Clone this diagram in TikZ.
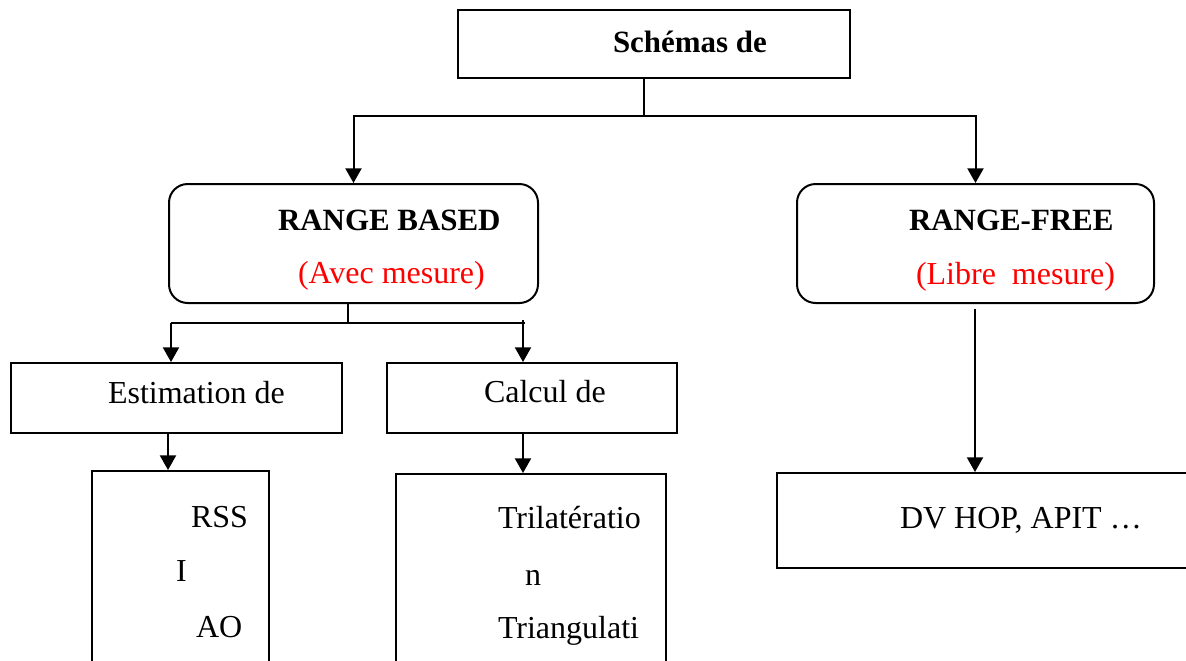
\documentclass[tikz,border=0pt]{standalone}
\usepackage{fontspec}
\setmainfont{Liberation Serif}
\usetikzlibrary{arrows.meta,fit}
\definecolor{rbred}{HTML}{FF0000}

\begin{document}
\begin{tikzpicture}[x=0.375pt, y=-0.375pt, line width=0.75pt,
    box/.style={draw, rectangle, inner sep=0pt},
    roundbox/.style={draw, rectangle, rounded corners=7pt, inner sep=0pt},
    arr/.style={-{Triangle[width=6pt,length=5.5pt]}},
    lbl/.style={anchor=base west, inner sep=0pt, font=\fontsize{12}{14}\selectfont},
    head/.style={lbl, font=\fontsize{11.6}{14}\selectfont\bfseries}]
            \useasboundingbox (0,0) rectangle (1186,660);
            \clip (0,0) rectangle (1186,660);

            % Boxes
            \node[box, fit={(458,10) (850,78)}] (top) {};
            \node[roundbox, fit={(169,184) (538,303)}] (based) {};
            \node[roundbox, fit={(797,184) (1154,303)}] (free) {};
            \node[box, fit={(11,363) (342,433)}] (estim) {};
            \node[box, fit={(387,363) (677,433)}] (calc) {};
            \node[box, fit={(92,471) (269,720)}] (rss) {};
            \node[box, fit={(396,474) (666,720)}] (trilat) {};
            \node[box, fit={(777,473) (1210,568)}] (dvhop) {};

            % Texts
            \node[head] (ttop) at (612,52) {Schémas de};
            \node[head] (tbased) at (277,230) {RANGE BASED};
            \node[lbl, text=rbred] (tavec) at (297,283) {(Avec mesure)};
            \node[head] (tfree) at (908,230) {RANGE-FREE};
            \node[lbl, text=rbred] (tlibre) at (915,284) {(Libre\ \ mesure)};
            \node[lbl] (testim) at (107,403) {Estimation de};
            \node[lbl] (tcalc) at (483,402) {Calcul de};
            \node[lbl] (trss) at (190,527) {RSS};
            \node[lbl] (ti) at (175,581) {I};
            \node[lbl] (tao) at (195,637) {AO};
            \node[lbl] (ttri) at (497,528) {Trilatératio};
            \node[lbl] (tn) at (524,585) {n};
            \node[lbl] (ttrian) at (497,638) {Triangulati};
            \node[lbl] (tdv) at (899,528) {DV HOP, APIT \dots};

            % Junctions
            \coordinate (j1) at (644,116);
            \coordinate (j2) at (348,323);
            \coordinate (k1) at (171,323);
            \coordinate (k2) at (523,323);
            \coordinate (c1) at (168,0);
            \coordinate (c2) at (523,0);
            \coordinate (c3) at (975,0);

            \draw (j1 |- top.south) -- (j1);
            \draw[arr] (j1) -| (based.north);
            \draw[arr] (j1) -| (free.north);

            \draw (j2 |- based.south) -- (j2);
            \draw (k1) -- ([xshift=0.8pt]k2);
            \draw[arr] (k1) -- (k1 |- estim.north);
            \draw[arr] ([yshift=1pt]k2) -- (k2 |- calc.north);

            \draw[arr] (c1 |- estim.south) -- (c1 |- rss.north);
            \draw[arr] (c2 |- calc.south) -- (c2 |- trilat.north);
            \draw[arr, shorten <=2pt] (c3 |- free.south) -- (c3 |- dvhop.north);
        \end{tikzpicture}
\end{document}
